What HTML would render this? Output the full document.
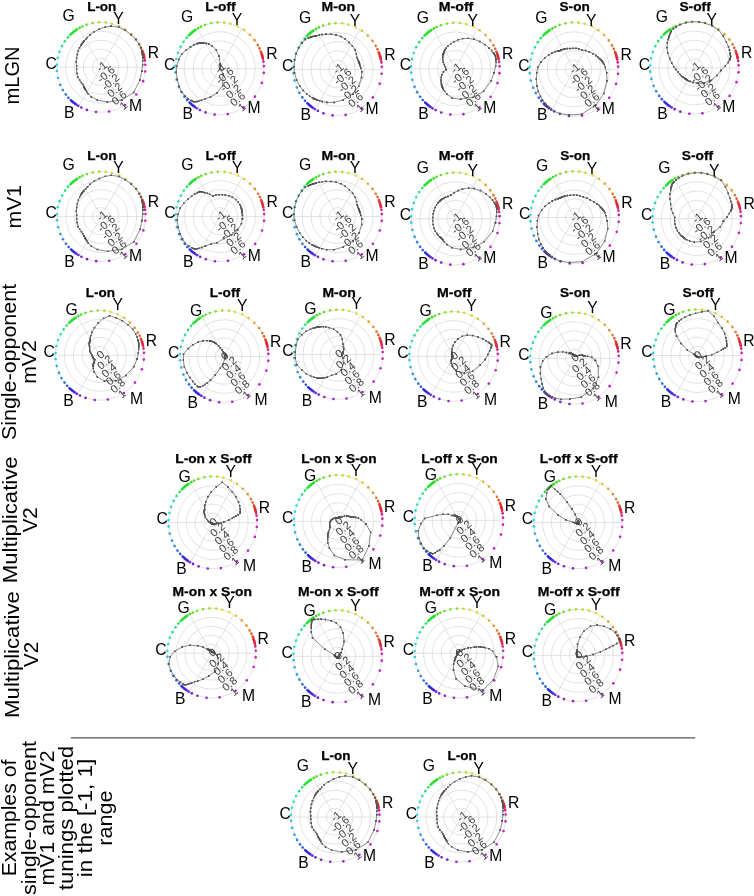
<!DOCTYPE html>
<html><head><meta charset="utf-8"><style>
html,body{margin:0;padding:0;background:#fff;}
svg{display:block;will-change:transform;}
text{font-family:"Liberation Sans",sans-serif;}
.g{fill:none;stroke:#d6d6d6;stroke-width:0.7;}
.c{fill:none;stroke:#7a7a7a;stroke-width:0.85;stroke-linejoin:round;marker-start:url(#mk);marker-mid:url(#mk);marker-end:url(#mk);}
.m{fill:#7a7a7a;}
.t{font-size:11px;fill:#404040;text-anchor:middle;}
.a{font-size:15.7px;fill:#000;text-anchor:middle;}
.h{font-size:11.9px;font-weight:bold;fill:#000;text-anchor:middle;stroke:#000;stroke-width:0.25px;}
.s{font-size:20.1px;fill:#000;text-anchor:middle;}
</style></head><body>
<svg width="754" height="896" viewBox="0 0 754 896">
<defs>
<g id="ring">
<circle r="8.86" class="g"/>
<circle r="17.72" class="g"/>
<circle r="26.58" class="g"/>
<circle r="35.44" class="g"/>
<circle r="44.30" class="g"/>
<line x1="44.30" y1="0.00" x2="-44.30" y2="-0.00" class="g"/>
<line x1="22.15" y1="-38.36" x2="-22.15" y2="38.36" class="g"/>
<line x1="-22.15" y1="-38.36" x2="22.15" y2="38.36" class="g"/>
<circle cx="44.10" cy="4.17" r="1.30" fill="#cc1fbe"/>
<circle cx="44.23" cy="-2.47" r="1.30" fill="#cc1faf"/>
<circle cx="43.79" cy="-6.70" r="1.30" fill="#cc1f7b"/>
<circle cx="43.33" cy="-9.21" r="1.30" fill="#e02866"/>
<circle cx="43.08" cy="-10.34" r="1.30" fill="#e02853"/>
<circle cx="42.79" cy="-11.47" r="1.30" fill="#e02841"/>
<circle cx="42.48" cy="-12.58" r="1.30" fill="#e02835"/>
<circle cx="42.13" cy="-13.69" r="1.30" fill="#e02828"/>
<circle cx="41.63" cy="-15.15" r="1.30" fill="#e03928"/>
<circle cx="41.16" cy="-16.38" r="1.30" fill="#e04728"/>
<circle cx="39.88" cy="-19.28" r="1.30" fill="#e06028"/>
<circle cx="38.13" cy="-22.55" r="1.30" fill="#e07828"/>
<circle cx="34.91" cy="-27.27" r="1.30" fill="#e09128"/>
<circle cx="30.21" cy="-32.40" r="1.30" fill="#e0a928"/>
<circle cx="24.32" cy="-37.03" r="1.30" fill="#e0c228"/>
<circle cx="18.02" cy="-40.47" r="1.30" fill="#e0da28"/>
<circle cx="10.72" cy="-42.98" r="1.30" fill="#cee028"/>
<circle cx="4.63" cy="-44.06" r="1.30" fill="#b5e028"/>
<circle cx="-2.09" cy="-44.25" r="1.30" fill="#9de028"/>
<circle cx="-8.45" cy="-43.49" r="1.30" fill="#84e028"/>
<circle cx="-14.42" cy="-41.89" r="1.30" fill="#6ce028"/>
<circle cx="-18.72" cy="-40.15" r="1.30" fill="#56e028"/>
<circle cx="-21.48" cy="-38.75" r="1.30" fill="#41e028"/>
<circle cx="-24.13" cy="-37.15" r="1.30" fill="#2fe028"/>
<circle cx="-25.09" cy="-36.51" r="1.30" fill="#2be028"/>
<circle cx="-26.04" cy="-35.84" r="1.30" fill="#28e02a"/>
<circle cx="-26.97" cy="-35.15" r="1.30" fill="#28e02d"/>
<circle cx="-27.88" cy="-34.43" r="1.30" fill="#28e032"/>
<circle cx="-28.77" cy="-33.69" r="1.30" fill="#28e036"/>
<circle cx="-29.64" cy="-32.92" r="1.30" fill="#28e03b"/>
<circle cx="-30.77" cy="-31.87" r="1.30" fill="#28e041"/>
<circle cx="-33.08" cy="-29.47" r="1.30" fill="#28e066"/>
<circle cx="-36.15" cy="-25.60" r="1.30" fill="#28e084"/>
<circle cx="-39.11" cy="-20.80" r="1.30" fill="#28e0a3"/>
<circle cx="-41.63" cy="-15.15" r="1.30" fill="#28e0bc"/>
<circle cx="-43.33" cy="-9.21" r="1.30" fill="#28e0d1"/>
<circle cx="-44.24" cy="-2.32" r="1.30" fill="#28dae0"/>
<circle cx="-44.15" cy="3.63" r="1.30" fill="#28c8e0"/>
<circle cx="-43.02" cy="10.57" r="1.30" fill="#28b2e0"/>
<circle cx="-40.78" cy="17.31" r="1.30" fill="#289ae0"/>
<circle cx="-38.21" cy="22.42" r="1.30" fill="#2884e0"/>
<circle cx="-35.24" cy="26.85" r="1.30" fill="#286ce0"/>
<circle cx="-32.61" cy="29.99" r="1.30" fill="#2856e0"/>
<circle cx="-30.10" cy="32.50" r="1.30" fill="#283be0"/>
<circle cx="-29.06" cy="33.43" r="1.30" fill="#282fe0"/>
<circle cx="-28.00" cy="34.33" r="1.30" fill="#2f28e0"/>
<circle cx="-26.91" cy="35.19" r="1.30" fill="#3c28e0"/>
<circle cx="-25.85" cy="35.98" r="1.30" fill="#4928e0"/>
<circle cx="-24.77" cy="36.73" r="1.30" fill="#5628e0"/>
<circle cx="-22.82" cy="37.97" r="1.30" fill="#6c28e0"/>
<circle cx="-19.77" cy="39.65" r="1.30" fill="#701fcc"/>
<circle cx="-14.13" cy="41.99" r="1.30" fill="#811fcc"/>
<circle cx="-5.01" cy="44.02" r="1.30" fill="#921fcc"/>
<circle cx="8.07" cy="43.56" r="1.30" fill="#a11fcc"/>
<circle cx="24.13" cy="37.15" r="1.30" fill="#af1fcc"/>
<circle cx="35.24" cy="26.85" r="1.30" fill="#be1fcc"/>
<circle cx="42.13" cy="13.69" r="1.30" fill="#cc1fcc"/>
</g>
<g id="tpm">
<text x="0.00" y="3.20" class="t" textLength="9.87" lengthAdjust="spacingAndGlyphs" transform="rotate(-40.0 0.00 0.00)">-1</text>
<text x="4.34" y="11.03" class="t" textLength="19.31" lengthAdjust="spacingAndGlyphs" transform="rotate(-40.0 4.34 7.83)">-0.6</text>
<text x="8.68" y="18.86" class="t" textLength="19.31" lengthAdjust="spacingAndGlyphs" transform="rotate(-40.0 8.68 15.66)">-0.2</text>
<text x="13.02" y="26.68" class="t" textLength="15.74" lengthAdjust="spacingAndGlyphs" transform="rotate(-40.0 13.02 23.48)">0.2</text>
<text x="17.36" y="34.51" class="t" textLength="15.74" lengthAdjust="spacingAndGlyphs" transform="rotate(-40.0 17.36 31.31)">0.6</text>
<text x="21.70" y="42.34" class="t" textLength="6.30" lengthAdjust="spacingAndGlyphs" transform="rotate(-40.0 21.70 39.14)">1</text>
</g>
<g id="apm">
<text x="-32.50" y="-46.20" class="a">G</text>
<text x="17.40" y="-43.20" class="a">Y</text>
<text x="52.30" y="-9.50" class="a">R</text>
<text x="-50.00" y="1.60" class="a">C</text>
<text x="-31.80" y="50.70" class="a">B</text>
<text x="34.40" y="44.20" class="a">M</text>
</g>
<g id="tz">
<text x="0.00" y="3.20" class="t" textLength="6.30" lengthAdjust="spacingAndGlyphs" transform="rotate(-40.0 0.00 0.00)">0</text>
<text x="4.34" y="11.03" class="t" textLength="15.74" lengthAdjust="spacingAndGlyphs" transform="rotate(-40.0 4.34 7.83)">0.2</text>
<text x="8.68" y="18.86" class="t" textLength="15.74" lengthAdjust="spacingAndGlyphs" transform="rotate(-40.0 8.68 15.66)">0.4</text>
<text x="13.02" y="26.68" class="t" textLength="15.74" lengthAdjust="spacingAndGlyphs" transform="rotate(-40.0 13.02 23.48)">0.6</text>
<text x="17.36" y="34.51" class="t" textLength="15.74" lengthAdjust="spacingAndGlyphs" transform="rotate(-40.0 17.36 31.31)">0.8</text>
<text x="21.70" y="42.34" class="t" textLength="6.30" lengthAdjust="spacingAndGlyphs" transform="rotate(-40.0 21.70 39.14)">1</text>
</g>
<g id="az">
<text x="-28.05" y="-40.60" class="a">G</text>
<text x="17.95" y="-45.30" class="a">Y</text>
<text x="51.60" y="-9.40" class="a">R</text>
<text x="-50.55" y="1.50" class="a">C</text>
<text x="-31.40" y="51.10" class="a">B</text>
<text x="36.90" y="48.20" class="a">M</text>
</g>
<marker id="mk" viewBox="-1 -1 2 2" markerWidth="2.10" markerHeight="2.10" markerUnits="userSpaceOnUse"><circle r="1" fill="#555555"/></marker>
</defs>
<g transform="translate(101.05 67.25) scale(1 1.016)">
<use href="#ring"/>
<polygon points="40.8,3.9 41.5,-2.3 41.7,-6.4 41.7,-8.9 41.6,-10.0 41.5,-11.1 41.4,-12.3 41.2,-13.4 40.9,-14.9 40.6,-16.2 39.8,-19.2 38.1,-22.6 34.9,-27.3 30.0,-32.1 23.9,-36.4 17.6,-39.5 10.1,-40.6 4.2,-39.5 -1.8,-37.5 -6.8,-35.0 -11.0,-31.9 -13.7,-29.3 -15.2,-27.5 -16.8,-25.9 -17.4,-25.3 -17.9,-24.7 -18.5,-24.1 -19.0,-23.4 -19.5,-22.8 -19.9,-22.1 -20.5,-21.2 -21.6,-19.2 -22.8,-16.2 -23.8,-12.6 -24.5,-8.9 -24.8,-5.3 -24.5,-1.3 -24.5,2.0 -24.1,5.9 -23.2,9.8 -21.5,12.6 -19.7,15.0 -18.3,16.8 -17.4,18.8 -17.0,19.6 -16.6,20.4 -16.2,21.2 -15.7,21.9 -15.3,22.6 -14.4,24.0 -13.0,26.0 -9.8,29.2 -3.7,32.4 6.3,34.2 20.9,32.2 32.6,24.8 38.9,12.6" class="c"/>
</g>
<use href="#tpm" x="102.05" y="66.95"/>
<use href="#apm" x="101.05" y="67.25"/>
<text x="101.75" y="10.80" class="h" textLength="29.17" lengthAdjust="spacingAndGlyphs">L-on</text>
<g transform="translate(219.65 68.60) scale(1 1.044)">
<use href="#ring"/>
<polygon points="0.2,0.0 0.0,0.0 0.0,0.0 0.0,0.0 0.0,0.0 0.0,0.0 0.0,0.0 0.0,0.0 0.0,0.0 0.0,0.0 0.0,0.0 0.0,-0.0 0.2,-0.1 0.3,-0.4 0.4,-0.7 0.7,-1.7 0.8,-3.3 0.5,-4.6 -0.6,-11.9 -3.5,-18.0 -7.4,-21.6 -10.9,-23.5 -13.4,-24.1 -15.9,-24.5 -16.9,-24.6 -17.9,-24.7 -18.9,-24.7 -19.9,-24.5 -20.8,-24.3 -21.7,-24.1 -23.0,-23.8 -25.6,-22.8 -29.2,-20.7 -33.3,-17.7 -38.1,-13.9 -40.9,-8.7 -43.0,-2.3 -43.3,3.6 -42.3,10.4 -40.4,17.2 -38.1,22.4 -34.6,26.3 -31.3,28.8 -28.3,30.6 -27.2,31.2 -26.0,31.8 -24.3,31.8 -22.7,31.5 -21.0,31.2 -18.2,30.4 -14.4,28.9 -9.2,27.3 -2.7,23.3 3.0,16.3 3.3,5.1 1.8,1.4 0.5,0.2" class="c"/>
</g>
<use href="#tpm" x="220.65" y="68.30"/>
<use href="#apm" x="219.65" y="68.60"/>
<text x="220.35" y="10.80" class="h" textLength="30.34" lengthAdjust="spacingAndGlyphs">L-off</text>
<g transform="translate(337.60 69.40) scale(1 1.045)">
<use href="#ring"/>
<polygon points="24.1,2.3 23.2,-1.3 22.5,-3.4 22.0,-4.7 21.9,-5.3 21.7,-5.8 21.5,-6.4 21.3,-6.9 21.0,-7.6 20.7,-8.2 20.0,-9.7 19.3,-11.4 18.8,-14.7 17.4,-18.7 14.8,-22.5 11.5,-25.8 7.3,-29.2 3.3,-31.5 -1.6,-32.9 -6.5,-33.6 -11.6,-33.7 -15.6,-33.4 -18.2,-32.9 -20.9,-32.2 -22.0,-32.0 -23.1,-31.8 -24.2,-31.6 -25.3,-31.3 -26.5,-31.0 -27.6,-30.6 -29.1,-30.1 -32.3,-28.7 -35.7,-25.3 -38.9,-20.7 -41.5,-15.1 -43.0,-9.1 -43.7,-2.3 -43.1,3.5 -41.0,10.1 -37.7,16.0 -34.4,20.2 -30.9,23.5 -27.9,25.7 -25.2,27.2 -24.1,27.8 -23.1,28.3 -22.0,28.7 -20.9,29.1 -19.9,29.5 -18.0,30.0 -15.3,30.7 -10.6,31.6 -3.6,31.6 5.4,29.3 15.1,23.3 21.1,16.1 23.9,7.8" class="c"/>
</g>
<use href="#tpm" x="338.60" y="69.10"/>
<use href="#apm" x="337.60" y="69.40"/>
<text x="338.30" y="10.80" class="h" textLength="33.43" lengthAdjust="spacingAndGlyphs">M-on</text>
<g transform="translate(455.35 68.80) scale(1 1.041)">
<use href="#ring"/>
<polygon points="38.6,3.7 40.3,-2.3 40.7,-6.2 40.6,-8.6 40.4,-9.7 40.3,-10.8 40.1,-11.9 39.7,-12.9 38.9,-14.2 38.1,-15.2 36.2,-17.5 33.7,-19.9 29.7,-23.2 24.4,-26.2 18.6,-28.3 13.0,-29.2 7.2,-29.0 2.9,-27.9 -1.2,-26.1 -4.7,-24.1 -7.5,-21.8 -9.2,-19.8 -10.2,-18.4 -11.0,-16.9 -11.2,-16.3 -11.5,-15.8 -11.7,-15.2 -11.9,-14.7 -12.1,-14.1 -12.2,-13.6 -12.4,-12.8 -12.6,-11.2 -12.5,-8.9 -12.1,-6.4 -11.1,-4.1 -10.6,-2.3 -9.8,-0.5 -9.3,0.8 -11.9,2.9 -13.4,5.7 -14.1,8.3 -14.4,10.9 -14.2,13.1 -13.9,15.0 -13.7,15.7 -13.4,16.5 -13.2,17.2 -12.9,17.9 -12.6,18.7 -12.0,19.9 -10.8,21.7 -8.3,24.5 -3.2,28.1 5.4,29.2 17.8,27.4 28.2,21.5 35.8,11.6" class="c"/>
</g>
<use href="#tpm" x="456.35" y="68.50"/>
<use href="#apm" x="455.35" y="68.80"/>
<text x="456.05" y="10.80" class="h" textLength="34.60" lengthAdjust="spacingAndGlyphs">M-off</text>
<g transform="translate(573.95 69.35) scale(1 1.059)">
<use href="#ring"/>
<polygon points="32.6,3.1 31.4,-1.8 30.3,-4.6 29.2,-6.2 28.7,-6.9 28.2,-7.5 27.6,-8.2 27.0,-8.8 26.2,-9.5 25.5,-10.2 23.9,-11.6 22.0,-13.0 19.0,-14.8 15.3,-16.5 11.6,-17.7 8.1,-18.1 4.8,-19.2 2.1,-19.8 -0.9,-19.9 -3.8,-19.6 -6.7,-19.6 -9.0,-19.3 -10.5,-18.9 -12.0,-18.5 -12.6,-18.3 -13.1,-18.1 -13.7,-17.8 -14.2,-17.6 -14.9,-17.4 -15.6,-17.3 -16.6,-17.2 -18.7,-16.7 -21.9,-15.5 -25.4,-13.5 -29.4,-10.7 -32.9,-7.0 -36.1,-1.9 -37.2,3.1 -37.6,9.2 -37.0,15.7 -35.7,20.9 -33.5,25.5 -31.5,28.9 -29.4,31.7 -28.5,32.8 -27.6,33.8 -26.5,34.7 -25.5,35.5 -24.5,36.3 -22.6,37.7 -19.7,39.5 -14.1,41.8 -4.9,43.1 7.8,42.3 21.9,33.7 29.9,22.8 33.1,10.8" class="c"/>
</g>
<use href="#tpm" x="574.95" y="69.05"/>
<use href="#apm" x="573.95" y="69.35"/>
<text x="574.65" y="10.80" class="h" textLength="30.16" lengthAdjust="spacingAndGlyphs">S-on</text>
<g transform="translate(694.40 67.90) scale(1 1.042)">
<use href="#ring"/>
<polygon points="26.4,2.5 31.0,-1.7 33.7,-5.2 35.1,-7.5 35.7,-8.6 36.0,-9.6 36.2,-10.7 36.1,-11.7 35.9,-13.1 35.7,-14.2 35.1,-17.0 34.1,-20.2 32.0,-25.0 28.7,-30.8 24.0,-36.5 17.9,-40.2 10.7,-43.0 4.6,-44.1 -2.1,-44.3 -8.5,-43.5 -14.3,-41.5 -18.3,-39.3 -20.9,-37.7 -23.0,-35.4 -23.6,-34.3 -24.1,-33.2 -24.6,-32.0 -25.0,-30.9 -25.5,-29.8 -25.8,-28.7 -26.3,-27.2 -27.0,-24.0 -27.4,-19.4 -26.7,-14.2 -24.7,-9.0 -22.7,-4.8 -20.7,-1.1 -18.6,1.5 -16.3,4.0 -14.6,6.2 -13.0,7.7 -11.5,8.8 -10.3,9.4 -9.4,10.2 -9.1,10.5 -8.7,10.7 -8.4,11.0 -8.1,11.2 -7.7,11.4 -7.1,11.8 -6.1,12.3 -4.4,13.0 -1.6,14.0 2.7,14.6 9.6,14.7 15.9,12.1 22.5,7.3" class="c"/>
</g>
<use href="#tpm" x="695.40" y="67.60"/>
<use href="#apm" x="694.40" y="67.90"/>
<text x="695.10" y="10.80" class="h" textLength="31.32" lengthAdjust="spacingAndGlyphs">S-off</text>
<g transform="translate(101.20 216.55) scale(1 1.014)">
<use href="#ring"/>
<polygon points="40.8,3.9 41.5,-2.3 41.7,-6.4 41.7,-8.9 41.6,-10.0 41.5,-11.1 41.4,-12.3 41.2,-13.4 40.9,-14.9 40.6,-16.2 39.8,-19.2 38.1,-22.6 34.9,-27.3 30.0,-32.1 23.9,-36.4 17.6,-39.5 10.1,-40.7 4.2,-39.6 -1.8,-37.5 -6.8,-35.0 -11.0,-31.9 -13.7,-29.3 -15.3,-27.5 -16.9,-25.9 -17.4,-25.3 -18.0,-24.7 -18.5,-24.1 -19.0,-23.4 -19.5,-22.8 -19.9,-22.1 -20.5,-21.2 -21.6,-19.2 -22.8,-16.2 -23.8,-12.6 -24.5,-8.9 -24.8,-5.3 -24.5,-1.3 -24.5,2.0 -24.1,5.9 -23.2,9.8 -21.6,12.6 -19.7,15.0 -18.3,16.8 -17.4,18.8 -17.1,19.6 -16.6,20.4 -16.2,21.2 -15.7,21.9 -15.3,22.6 -14.4,24.0 -13.0,26.1 -9.8,29.3 -3.7,32.5 6.4,34.3 20.9,32.2 32.6,24.8 38.9,12.6" class="c"/>
</g>
<use href="#tpm" x="102.20" y="216.25"/>
<use href="#apm" x="101.20" y="216.55"/>
<text x="101.90" y="159.90" class="h" textLength="29.17" lengthAdjust="spacingAndGlyphs">L-on</text>
<g transform="translate(219.95 216.60) scale(1 1.015)">
<use href="#ring"/>
<polygon points="22.5,2.1 22.5,-1.3 22.2,-3.4 22.0,-4.7 22.0,-5.3 21.9,-5.9 21.8,-6.4 21.7,-7.0 21.5,-7.8 21.3,-8.5 20.8,-10.0 20.0,-11.8 18.3,-14.3 15.7,-16.8 12.5,-19.0 9.1,-20.5 5.3,-21.3 2.3,-21.5 -1.0,-21.5 -4.1,-21.1 -7.0,-20.3 -10.2,-21.9 -12.7,-22.9 -15.3,-23.6 -16.5,-24.0 -17.7,-24.3 -18.9,-24.6 -20.0,-24.7 -20.8,-24.3 -21.6,-24.0 -22.7,-23.5 -25.1,-22.3 -28.4,-20.1 -32.2,-17.1 -36.2,-13.2 -39.7,-8.4 -42.1,-2.2 -42.7,3.5 -41.8,10.3 -39.8,16.9 -37.5,22.0 -34.7,26.4 -31.3,28.8 -28.3,30.6 -27.1,31.2 -25.9,31.8 -24.4,31.9 -22.7,31.6 -21.1,31.3 -18.3,30.5 -14.5,29.0 -9.1,27.1 -2.9,25.7 4.0,21.6 11.7,18.0 17.7,13.5 21.5,7.0" class="c"/>
</g>
<use href="#tpm" x="220.95" y="216.30"/>
<use href="#apm" x="219.95" y="216.60"/>
<text x="220.65" y="159.90" class="h" textLength="30.34" lengthAdjust="spacingAndGlyphs">L-off</text>
<g transform="translate(337.65 216.60) scale(1 1.015)">
<use href="#ring"/>
<polygon points="24.1,2.3 23.2,-1.3 22.6,-3.5 22.1,-4.7 21.9,-5.3 21.8,-5.8 21.6,-6.4 21.4,-6.9 21.1,-7.7 20.8,-8.3 20.1,-9.7 19.4,-11.4 18.9,-14.8 17.6,-18.9 15.1,-22.9 11.7,-26.4 7.5,-29.9 3.4,-32.4 -1.6,-33.9 -6.7,-34.6 -11.9,-34.7 -16.0,-34.3 -18.7,-33.7 -21.5,-33.0 -22.5,-32.8 -23.6,-32.5 -24.7,-32.1 -25.7,-31.8 -26.8,-31.4 -27.9,-31.0 -29.3,-30.3 -32.3,-28.8 -35.7,-25.3 -38.9,-20.7 -41.5,-15.1 -43.0,-9.1 -43.7,-2.3 -43.1,3.5 -41.1,10.1 -38.0,16.1 -34.7,20.4 -31.3,23.8 -28.4,26.1 -25.7,27.7 -24.6,28.3 -23.5,28.9 -22.4,29.3 -21.4,29.8 -20.3,30.2 -18.5,30.8 -15.7,31.5 -10.9,32.5 -3.7,32.5 5.6,30.0 15.4,23.8 21.3,16.2 24.0,7.8" class="c"/>
</g>
<use href="#tpm" x="338.65" y="216.30"/>
<use href="#apm" x="337.65" y="216.60"/>
<text x="338.35" y="159.90" class="h" textLength="33.43" lengthAdjust="spacingAndGlyphs">M-on</text>
<g transform="translate(455.35 218.75) scale(1 1.044)">
<use href="#ring"/>
<polygon points="40.1,3.8 41.1,-2.3 41.3,-6.3 41.3,-8.8 41.2,-9.9 41.1,-11.0 40.9,-12.1 40.4,-13.1 39.6,-14.4 38.9,-15.5 37.1,-17.9 34.7,-20.5 30.5,-23.9 25.1,-27.0 19.0,-28.9 13.2,-29.5 7.1,-28.4 2.8,-27.0 -1.2,-25.0 -4.4,-22.7 -7.4,-21.4 -9.6,-20.6 -11.1,-20.0 -12.5,-19.2 -13.0,-18.9 -13.5,-18.6 -14.0,-18.2 -14.4,-17.8 -14.9,-17.5 -15.4,-17.1 -16.0,-16.5 -17.2,-15.3 -18.8,-13.3 -20.3,-10.8 -21.4,-7.8 -22.2,-4.7 -22.5,-1.2 -22.7,1.9 -22.3,5.5 -21.4,9.1 -20.1,11.8 -18.5,14.1 -17.2,15.8 -15.9,17.1 -15.3,17.6 -14.8,18.1 -14.2,18.5 -13.6,19.0 -13.1,19.4 -12.3,20.5 -11.0,22.1 -8.3,24.7 -3.2,27.8 5.4,29.4 17.9,27.5 28.9,22.0 37.2,12.1" class="c"/>
</g>
<use href="#tpm" x="456.35" y="218.45"/>
<use href="#apm" x="455.35" y="218.75"/>
<text x="456.05" y="159.90" class="h" textLength="34.60" lengthAdjust="spacingAndGlyphs">M-off</text>
<g transform="translate(574.60 217.50) scale(1 1.044)">
<use href="#ring"/>
<polygon points="32.6,3.1 31.4,-1.8 30.4,-4.6 29.3,-6.2 28.8,-6.9 28.2,-7.6 27.7,-8.2 27.1,-8.8 26.3,-9.6 25.7,-10.2 24.1,-11.6 22.2,-13.1 19.1,-14.9 15.7,-16.8 12.2,-18.5 8.7,-19.6 5.2,-20.8 2.2,-21.4 -1.0,-21.6 -4.1,-21.3 -7.2,-21.0 -9.6,-20.6 -11.1,-20.1 -12.7,-19.5 -13.2,-19.3 -13.8,-19.0 -14.4,-18.7 -14.9,-18.4 -15.6,-18.3 -16.3,-18.1 -17.2,-17.9 -19.3,-17.2 -22.3,-15.8 -25.6,-13.6 -29.5,-10.7 -33.0,-7.0 -36.1,-1.9 -37.2,3.1 -37.6,9.2 -37.0,15.7 -35.8,21.0 -33.6,25.6 -31.5,29.0 -29.4,31.8 -28.5,32.8 -27.6,33.8 -26.5,34.7 -25.5,35.5 -24.5,36.3 -22.6,37.7 -19.7,39.5 -14.1,41.8 -4.9,43.1 7.8,42.3 22.1,34.0 30.0,22.8 33.1,10.8" class="c"/>
</g>
<use href="#tpm" x="575.60" y="217.20"/>
<use href="#apm" x="574.60" y="217.50"/>
<text x="575.30" y="159.90" class="h" textLength="30.16" lengthAdjust="spacingAndGlyphs">S-on</text>
<g transform="translate(696.75 218.70) scale(1 1.041)">
<use href="#ring"/>
<polygon points="26.7,2.5 30.3,-1.7 32.6,-5.0 33.8,-7.2 34.3,-8.2 34.8,-9.3 35.2,-10.4 35.3,-11.5 35.1,-12.8 34.9,-13.9 34.2,-16.5 33.1,-19.6 31.4,-24.5 28.7,-30.8 24.3,-36.9 18.0,-40.4 10.7,-43.0 4.6,-44.1 -2.1,-44.1 -8.4,-43.2 -14.2,-41.2 -18.1,-38.9 -20.6,-37.1 -22.8,-35.2 -23.7,-34.4 -24.4,-33.6 -24.9,-32.4 -25.3,-31.2 -25.6,-30.0 -25.9,-28.8 -26.2,-27.1 -26.7,-23.7 -26.8,-19.0 -26.1,-13.9 -25.4,-9.2 -24.0,-5.1 -22.1,-1.2 -22.2,1.8 -21.7,5.3 -20.7,8.8 -19.4,11.4 -17.9,13.6 -16.5,15.2 -15.3,16.5 -14.7,17.0 -14.2,17.4 -13.7,17.9 -13.1,18.3 -12.6,18.7 -11.6,19.3 -10.1,20.2 -7.2,21.5 -2.6,22.5 4.1,21.9 11.8,18.2 17.2,13.1 23.6,7.7" class="c"/>
</g>
<use href="#tpm" x="697.75" y="218.40"/>
<use href="#apm" x="696.75" y="218.70"/>
<text x="697.45" y="159.90" class="h" textLength="31.32" lengthAdjust="spacingAndGlyphs">S-off</text>
<g transform="translate(99.75 355.35) scale(1 1.014)">
<use href="#ring"/>
<polygon points="37.4,3.5 38.5,-2.2 38.9,-6.0 39.0,-8.3 39.0,-9.4 39.0,-10.4 38.9,-11.5 38.8,-12.6 38.5,-14.0 38.2,-15.2 37.3,-18.0 35.9,-21.2 32.9,-25.7 28.2,-30.2 22.4,-34.2 16.5,-37.0 9.7,-39.0 3.8,-36.5 -1.5,-32.0 -5.3,-27.3 -7.8,-22.7 -9.0,-19.3 -9.4,-17.0 -9.7,-15.0 -9.9,-14.4 -10.1,-13.8 -10.2,-13.3 -10.3,-12.7 -10.3,-12.1 -10.4,-11.5 -10.4,-10.8 -10.3,-9.2 -10.2,-7.2 -10.1,-5.4 -9.7,-3.5 -9.0,-1.9 -7.9,-0.4 -7.4,0.6 -7.0,1.7 -6.5,2.7 -5.9,3.5 -5.3,4.1 -4.9,4.5 -5.7,6.1 -5.9,6.8 -6.1,7.5 -6.3,8.2 -6.4,8.9 -6.5,9.6 -6.6,10.9 -6.4,12.9 -5.5,16.4 -2.4,21.3 4.7,25.2 16.2,25.0 26.1,19.9 34.2,11.1" class="c"/>
</g>
<use href="#tz" x="100.75" y="355.05"/>
<use href="#az" x="99.75" y="355.35"/>
<text x="100.45" y="297.40" class="h" textLength="29.17" lengthAdjust="spacingAndGlyphs">L-on</text>
<g transform="translate(224.20 356.50) scale(1 1.039)">
<use href="#ring"/>
<polygon points="1.3,0.1 1.3,-0.1 1.3,-0.2 1.3,-0.3 1.3,-0.3 1.3,-0.3 1.3,-0.4 1.3,-0.4 1.2,-0.5 1.2,-0.5 1.2,-0.6 1.1,-0.7 1.0,-0.8 0.9,-1.0 0.7,-1.1 0.6,-1.4 0.4,-1.7 0.2,-2.0 -0.1,-2.8 -0.9,-4.7 -2.2,-6.4 -3.9,-8.3 -5.7,-10.3 -7.8,-12.1 -8.7,-12.7 -9.6,-13.2 -10.6,-13.8 -11.5,-14.3 -12.5,-14.6 -13.4,-14.8 -14.5,-15.0 -17.1,-15.3 -21.2,-15.0 -26.0,-13.8 -31.2,-11.4 -36.1,-7.7 -40.7,-2.1 -40.8,3.4 -39.9,9.8 -37.2,15.8 -34.4,20.2 -31.5,24.0 -29.0,26.7 -26.7,28.8 -25.7,29.6 -24.0,29.4 -21.6,28.2 -19.4,27.0 -17.3,25.6 -13.7,22.8 -8.9,17.8 -3.8,11.2 -0.8,6.9 0.4,2.1 1.0,1.5 1.2,0.9 1.3,0.4" class="c"/>
</g>
<use href="#tz" x="225.20" y="356.20"/>
<use href="#az" x="224.20" y="356.50"/>
<text x="224.90" y="297.40" class="h" textLength="30.34" lengthAdjust="spacingAndGlyphs">L-off</text>
<g transform="translate(338.45 354.45) scale(1 1.012)">
<use href="#ring"/>
<polygon points="3.5,0.3 3.7,-0.2 4.0,-0.6 4.2,-0.9 4.2,-1.0 4.3,-1.1 4.3,-1.3 4.4,-1.4 4.4,-1.6 4.5,-1.8 4.6,-2.2 4.7,-2.8 5.1,-4.0 5.3,-5.7 5.0,-7.6 4.5,-10.2 3.8,-15.2 2.0,-19.2 -1.1,-22.4 -4.8,-24.9 -9.1,-26.5 -12.7,-27.2 -15.2,-27.4 -17.8,-27.4 -18.8,-27.3 -19.8,-27.2 -20.7,-27.0 -21.7,-26.8 -22.7,-26.6 -23.7,-26.4 -25.1,-26.0 -28.0,-24.9 -32.2,-22.8 -36.6,-19.5 -40.8,-14.8 -42.4,-9.0 -43.1,-2.3 -43.2,3.5 -41.6,10.2 -36.6,15.5 -32.2,18.9 -27.9,21.2 -24.5,22.5 -21.6,23.3 -20.4,23.5 -19.2,23.5 -18.0,23.5 -16.8,23.4 -15.7,23.3 -13.8,23.0 -11.1,22.4 -6.9,20.6 -2.2,19.2 2.8,15.1 5.4,8.3 4.4,3.4 3.4,1.1" class="c"/>
</g>
<use href="#tz" x="339.45" y="354.15"/>
<use href="#az" x="338.45" y="354.45"/>
<text x="339.15" y="297.40" class="h" textLength="33.43" lengthAdjust="spacingAndGlyphs">M-on</text>
<g transform="translate(453.55 356.40) scale(1 1.013)">
<use href="#ring"/>
<polygon points="31.7,3.0 34.3,-1.9 36.2,-5.5 37.2,-7.9 37.6,-9.0 38.0,-10.2 38.1,-11.3 37.2,-12.1 36.0,-13.1 34.9,-13.9 32.3,-15.6 29.2,-17.3 24.5,-19.1 19.2,-20.6 13.8,-21.0 8.8,-19.9 4.3,-17.2 1.5,-14.1 -0.5,-10.7 -1.4,-7.3 -1.7,-5.0 -1.8,-3.9 -1.8,-3.2 -1.6,-2.5 -1.6,-2.3 -1.5,-2.0 -1.4,-1.8 -1.3,-1.5 -1.1,-1.3 -1.2,-1.3 -1.2,-1.2 -1.2,-1.1 -1.2,-0.9 -1.2,-0.6 -1.2,-0.4 -1.1,-0.2 -0.9,-0.0 -1.0,0.1 -1.2,0.3 -1.4,0.6 -1.5,0.9 -1.5,1.1 -1.5,1.4 -1.4,1.6 -1.4,1.6 -1.5,1.9 -1.7,2.3 -1.9,2.6 -2.0,3.0 -2.2,3.6 -2.3,4.7 -2.2,6.6 -1.1,9.7 2.6,14.3 10.8,16.6 19.1,14.6 26.5,8.6" class="c"/>
</g>
<use href="#tz" x="454.55" y="356.10"/>
<use href="#az" x="453.55" y="356.40"/>
<text x="454.25" y="297.40" class="h" textLength="34.60" lengthAdjust="spacingAndGlyphs">M-off</text>
<g transform="translate(574.45 358.40) scale(1 1.036)">
<use href="#ring"/>
<polygon points="21.0,2.0 17.2,-1.0 13.1,-2.0 10.6,-2.3 9.9,-2.4 9.5,-2.5 9.0,-2.7 8.6,-2.8 8.0,-2.9 7.5,-3.0 6.3,-3.0 4.9,-2.9 3.0,-2.3 2.2,-2.4 1.7,-2.5 1.1,-2.5 0.6,-2.4 0.2,-2.3 -0.1,-2.4 -0.6,-3.3 -1.4,-3.9 -2.0,-4.4 -2.5,-4.6 -3.1,-4.7 -3.3,-4.8 -3.5,-4.8 -3.7,-4.9 -4.0,-4.9 -4.2,-4.9 -4.4,-4.9 -4.7,-4.9 -5.4,-4.8 -8.1,-5.7 -11.9,-6.3 -16.6,-6.0 -22.4,-4.8 -28.0,-1.5 -31.8,2.6 -34.0,8.3 -34.1,14.5 -33.4,19.6 -32.4,24.7 -31.1,28.6 -29.6,32.0 -28.9,33.3 -27.9,34.2 -26.7,35.0 -25.6,35.6 -24.4,36.2 -22.4,37.2 -19.2,38.5 -13.3,39.4 -4.5,39.2 6.9,37.3 18.8,29.0 24.0,18.3 23.7,7.7" class="c"/>
</g>
<use href="#tz" x="575.45" y="358.10"/>
<use href="#az" x="574.45" y="358.40"/>
<text x="575.15" y="297.40" class="h" textLength="30.16" lengthAdjust="spacingAndGlyphs">S-on</text>
<g transform="translate(697.45 355.55) scale(1 1.044)">
<use href="#ring"/>
<polygon points="8.5,0.8 14.4,-0.8 19.9,-3.1 23.9,-5.1 25.8,-6.2 27.6,-7.4 29.2,-8.7 29.3,-9.5 29.3,-10.6 29.2,-11.6 29.0,-14.0 28.5,-16.8 27.1,-21.2 24.5,-26.3 20.7,-31.5 16.7,-37.5 10.7,-42.8 4.4,-41.9 -1.9,-40.4 -7.6,-38.9 -12.6,-36.7 -16.1,-34.6 -18.3,-33.0 -20.3,-31.2 -21.0,-30.6 -21.5,-29.6 -21.7,-28.3 -21.9,-27.1 -22.1,-25.9 -22.2,-24.6 -22.1,-22.9 -21.0,-18.7 -16.3,-11.5 -10.1,-5.3 -3.6,-1.3 -2.7,-0.6 -2.3,-0.1 -2.0,0.2 -1.5,0.4 -1.2,0.5 -1.1,0.7 -1.0,0.8 -1.0,0.9 -0.9,1.0 -0.9,1.0 -0.8,1.0 -0.8,1.0 -0.8,1.1 -0.7,1.1 -0.7,1.1 -0.6,1.2 -0.4,1.2 -0.1,1.3 0.2,1.3 0.7,1.1 1.5,1.2 4.5,1.5" class="c"/>
</g>
<use href="#tz" x="698.45" y="355.25"/>
<use href="#az" x="697.45" y="355.55"/>
<text x="698.15" y="297.40" class="h" textLength="31.32" lengthAdjust="spacingAndGlyphs">S-off</text>
<g transform="translate(212.75 522.60) scale(1 1.043)">
<use href="#ring"/>
<polygon points="5.6,0.5 11.1,-0.6 16.0,-2.4 19.5,-4.1 21.0,-5.0 23.3,-6.2 25.5,-7.6 27.5,-8.9 27.5,-10.0 27.5,-11.0 27.4,-13.2 26.9,-15.9 25.7,-20.1 23.1,-24.7 19.4,-29.5 15.2,-34.2 9.6,-38.6 3.6,-34.2 -1.4,-29.4 -4.8,-24.8 -6.9,-20.0 -7.9,-16.8 -8.2,-14.7 -8.2,-12.7 -8.3,-12.1 -8.4,-11.5 -8.4,-11.0 -8.4,-10.4 -8.4,-9.9 -8.4,-9.3 -8.3,-8.6 -8.1,-7.2 -7.4,-5.2 -6.2,-3.3 -5.0,-1.8 -4.0,-0.9 -2.7,-0.1 -2.1,0.2 -1.9,0.5 -1.6,0.7 -1.4,0.8 -1.2,0.9 -1.0,1.0 -0.9,1.0 -0.8,1.0 -0.8,1.0 -0.7,1.0 -0.7,1.0 -0.6,1.0 -0.6,0.9 -0.5,0.9 -0.3,0.9 -0.1,1.1 0.3,1.4 0.9,1.5 1.6,1.2 3.3,1.1" class="c"/>
</g>
<use href="#tz" x="213.75" y="522.30"/>
<use href="#az" x="212.75" y="522.60"/>
<text x="213.45" y="463.10" class="h" textLength="76.46" lengthAdjust="spacingAndGlyphs">L-on x S-off</text>
<g transform="translate(338.15 521.30) scale(1 1.044)">
<use href="#ring"/>
<polygon points="27.7,2.6 23.3,-1.3 20.2,-3.1 17.5,-3.7 16.2,-3.9 15.0,-4.0 13.7,-4.1 12.8,-4.2 12.2,-4.4 11.6,-4.6 10.2,-4.9 8.6,-5.1 6.3,-4.9 3.8,-4.1 2.8,-4.3 1.9,-4.2 1.0,-4.0 0.4,-3.7 -0.2,-3.4 -0.7,-3.3 -1.1,-3.2 -1.4,-3.1 -1.7,-3.0 -1.9,-2.9 -2.0,-2.9 -2.1,-2.9 -2.2,-2.9 -2.4,-2.9 -2.5,-3.0 -2.7,-3.0 -2.9,-3.0 -3.3,-2.9 -4.0,-2.8 -4.7,-2.5 -5.6,-2.1 -6.6,-1.4 -7.5,-0.4 -8.1,0.7 -8.5,2.1 -8.5,3.6 -8.4,4.9 -8.1,6.2 -8.7,8.0 -9.6,10.4 -9.9,11.4 -10.2,12.4 -10.3,13.5 -10.4,14.5 -10.5,15.6 -10.5,17.5 -10.3,20.6 -8.7,25.7 -3.7,32.7 6.8,36.8 24.1,37.1 30.8,23.5 32.4,10.5" class="c"/>
</g>
<use href="#tz" x="339.15" y="521.00"/>
<use href="#az" x="338.15" y="521.30"/>
<text x="338.85" y="463.10" class="h" textLength="75.29" lengthAdjust="spacingAndGlyphs">L-on x S-on</text>
<g transform="translate(458.85 520.30) scale(1 1.043)">
<use href="#ring"/>
<polygon points="1.3,0.1 1.3,-0.1 1.3,-0.2 1.3,-0.3 1.3,-0.3 1.3,-0.3 1.3,-0.4 1.3,-0.4 1.2,-0.5 1.2,-0.5 1.2,-0.6 1.1,-0.7 1.0,-0.8 0.9,-1.0 0.7,-1.1 0.5,-1.2 0.3,-1.2 0.1,-1.3 -0.1,-1.6 -0.5,-2.5 -1.1,-3.3 -1.8,-3.8 -2.3,-4.1 -2.8,-4.3 -3.0,-4.4 -3.2,-4.5 -3.5,-4.5 -3.7,-4.6 -3.9,-4.6 -4.2,-4.6 -4.5,-4.6 -5.2,-4.6 -6.5,-4.6 -10.6,-5.7 -15.6,-5.7 -22.2,-4.7 -34.3,-1.8 -37.9,3.1 -40.6,10.0 -40.0,17.0 -37.8,22.2 -35.2,26.8 -31.8,29.2 -28.7,31.0 -27.4,31.6 -26.2,32.1 -23.7,31.0 -21.4,29.8 -19.2,28.5 -14.6,24.3 -8.6,17.2 -0.9,2.8 -0.3,2.4 0.3,1.7 0.7,1.1 1.0,0.8 1.3,0.4" class="c"/>
</g>
<use href="#tz" x="459.85" y="520.00"/>
<use href="#az" x="458.85" y="520.30"/>
<text x="459.55" y="463.10" class="h" textLength="76.46" lengthAdjust="spacingAndGlyphs">L-off x S-on</text>
<g transform="translate(578.00 522.55) scale(1 1.041)">
<use href="#ring"/>
<polygon points="0.9,0.1 0.9,-0.1 0.9,-0.1 0.9,-0.2 0.9,-0.2 0.9,-0.2 0.9,-0.3 0.9,-0.3 0.9,-0.3 0.9,-0.4 0.9,-0.4 0.9,-0.5 0.8,-0.6 0.7,-0.8 0.6,-0.9 0.5,-1.0 0.3,-1.1 0.1,-1.2 -0.1,-1.2 -0.3,-1.7 -2.7,-7.8 -6.1,-13.2 -10.9,-19.6 -17.8,-27.4 -20.5,-29.8 -23.2,-32.0 -26.9,-35.1 -27.8,-34.3 -28.6,-33.5 -29.4,-32.7 -30.5,-31.5 -31.4,-28.0 -32.1,-22.7 -28.9,-15.4 -19.9,-7.2 -12.0,-2.5 -4.7,-0.2 -3.5,0.3 -2.1,0.5 -1.2,0.5 -1.1,0.7 -1.0,0.8 -0.9,0.9 -0.8,0.9 -0.8,0.9 -0.8,1.0 -0.7,1.0 -0.7,1.0 -0.7,1.0 -0.6,1.0 -0.5,1.1 -0.4,1.1 -0.1,1.1 0.2,1.1 0.6,0.9 0.8,0.6 0.9,0.3" class="c"/>
</g>
<use href="#tz" x="579.00" y="522.25"/>
<use href="#az" x="578.00" y="522.55"/>
<text x="578.70" y="463.10" class="h" textLength="77.62" lengthAdjust="spacingAndGlyphs">L-off x S-off</text>
<g transform="translate(211.55 653.20) scale(1 1.012)">
<use href="#ring"/>
<polygon points="3.3,0.3 2.2,-0.1 2.1,-0.3 2.0,-0.4 2.0,-0.5 2.0,-0.5 2.0,-0.6 1.9,-0.6 1.9,-0.7 1.9,-0.7 1.8,-0.9 1.6,-1.0 1.4,-1.1 1.2,-1.3 0.9,-1.4 0.6,-1.4 0.4,-1.4 0.1,-1.4 -0.1,-1.5 -0.4,-2.2 -0.9,-2.7 -1.4,-3.1 -1.8,-3.3 -2.2,-3.4 -2.4,-3.5 -2.5,-3.5 -2.7,-3.5 -2.9,-3.6 -3.1,-3.6 -3.2,-3.6 -3.5,-3.6 -4.4,-4.0 -8.5,-6.0 -13.7,-7.3 -21.6,-7.9 -29.4,-6.2 -36.8,-1.9 -41.3,3.4 -43.0,10.6 -40.8,17.3 -37.7,22.1 -34.2,26.1 -31.2,28.7 -28.3,30.6 -27.2,31.3 -25.4,31.2 -23.4,30.6 -21.5,29.9 -19.7,29.2 -17.0,28.2 -13.8,27.6 -8.7,25.7 -2.6,22.4 3.4,18.2 6.7,10.4 6.4,4.9 5.3,1.7" class="c"/>
</g>
<use href="#tz" x="212.55" y="652.90"/>
<use href="#az" x="211.55" y="653.20"/>
<text x="212.25" y="595.50" class="h" textLength="79.55" lengthAdjust="spacingAndGlyphs">M-on x S-on</text>
<g transform="translate(337.65 656.35) scale(1 1.042)">
<use href="#ring"/>
<polygon points="1.3,0.1 1.4,-0.1 1.5,-0.2 1.6,-0.3 1.6,-0.4 1.6,-0.4 1.6,-0.5 1.6,-0.5 1.7,-0.6 1.7,-0.7 1.7,-0.8 1.7,-1.0 1.7,-1.3 3.4,-3.6 4.5,-6.9 6.4,-14.3 5.6,-22.4 2.9,-27.8 -1.5,-32.2 -6.6,-34.2 -12.2,-35.3 -16.6,-35.7 -19.7,-35.6 -23.0,-35.4 -24.3,-35.3 -25.5,-35.1 -25.8,-33.6 -26.1,-32.2 -26.2,-30.7 -26.4,-29.3 -26.5,-27.4 -26.3,-23.4 -25.1,-17.8 -12.6,-6.7 -3.3,-1.2 -3.0,-0.6 -2.5,-0.1 -2.1,0.2 -1.6,0.4 -1.2,0.5 -1.1,0.7 -1.1,0.8 -1.0,0.9 -0.9,1.0 -0.9,1.0 -0.8,1.0 -0.8,1.1 -0.8,1.1 -0.7,1.1 -0.7,1.1 -0.6,1.2 -0.4,1.3 -0.2,1.3 0.2,1.3 0.7,1.1 1.1,0.8 1.3,0.4" class="c"/>
</g>
<use href="#tz" x="338.65" y="656.05"/>
<use href="#az" x="337.65" y="656.35"/>
<text x="338.35" y="595.50" class="h" textLength="80.72" lengthAdjust="spacingAndGlyphs">M-on x S-off</text>
<g transform="translate(458.95 653.30) scale(1 1.011)">
<use href="#ring"/>
<polygon points="37.5,3.5 33.6,-1.9 29.9,-4.6 26.2,-5.6 24.6,-5.9 22.9,-6.1 21.3,-6.3 19.6,-6.4 17.4,-6.3 15.5,-6.2 11.7,-5.6 9.0,-5.3 5.4,-4.2 3.4,-3.6 1.6,-2.4 0.9,-1.9 0.5,-1.9 0.2,-1.8 -0.1,-1.7 -0.3,-1.6 -0.5,-1.4 -0.6,-1.3 -0.6,-1.2 -0.7,-1.1 -0.8,-1.1 -0.8,-1.1 -0.8,-1.1 -0.9,-1.1 -0.9,-1.0 -0.9,-1.0 -1.0,-1.0 -1.0,-0.9 -1.2,-0.8 -1.3,-0.7 -1.4,-0.5 -1.5,-0.3 -1.6,-0.1 -1.6,0.1 -1.6,0.4 -1.6,0.7 -1.5,0.9 -1.4,1.1 -2.0,1.9 -2.9,3.2 -3.2,3.7 -3.5,4.3 -3.7,4.9 -3.9,5.5 -4.1,6.1 -4.5,7.5 -5.3,10.6 -5.5,16.4 -2.9,25.2 6.0,32.5 23.7,36.4 34.5,26.3 39.3,12.8" class="c"/>
</g>
<use href="#tz" x="459.95" y="653.00"/>
<use href="#az" x="458.95" y="653.30"/>
<text x="459.65" y="595.50" class="h" textLength="80.72" lengthAdjust="spacingAndGlyphs">M-off x S-on</text>
<g transform="translate(578.05 655.40) scale(1 1.041)">
<use href="#ring"/>
<polygon points="8.2,0.8 15.1,-0.8 22.4,-3.4 28.0,-5.9 31.5,-7.6 34.9,-9.4 38.6,-11.4 42.1,-13.7 41.5,-15.1 40.9,-16.3 39.3,-19.0 37.2,-22.0 32.5,-25.4 26.0,-27.9 19.2,-29.2 12.5,-28.0 5.8,-23.3 1.8,-17.3 -0.5,-10.7 -1.0,-5.1 -1.2,-3.4 -1.3,-2.7 -1.2,-2.2 -1.2,-1.8 -1.1,-1.6 -1.1,-1.5 -1.0,-1.3 -1.0,-1.2 -0.9,-1.0 -0.9,-1.0 -0.9,-0.9 -1.0,-0.9 -1.1,-0.7 -1.1,-0.6 -1.2,-0.4 -1.3,-0.3 -1.3,-0.1 -1.3,0.1 -1.3,0.3 -1.2,0.5 -1.1,0.7 -1.0,0.8 -1.0,0.9 -0.9,0.9 -0.8,1.0 -0.8,1.0 -0.8,1.0 -0.8,1.1 -0.7,1.1 -0.7,1.1 -0.6,1.2 -0.4,1.2 -0.1,1.3 0.2,1.3 0.8,1.2 2.4,1.9 4.4,1.4" class="c"/>
</g>
<use href="#tz" x="579.05" y="655.10"/>
<use href="#az" x="578.05" y="655.40"/>
<text x="578.75" y="595.50" class="h" textLength="81.88" lengthAdjust="spacingAndGlyphs">M-off x S-off</text>
<g transform="translate(335.25 817.15) scale(1 1.014)">
<use href="#ring"/>
<polygon points="40.8,3.9 41.5,-2.3 41.7,-6.4 41.7,-8.9 41.6,-10.0 41.5,-11.1 41.4,-12.3 41.2,-13.4 40.9,-14.9 40.6,-16.2 39.8,-19.2 38.1,-22.6 34.9,-27.3 30.0,-32.1 23.9,-36.4 17.6,-39.5 10.1,-40.7 4.2,-39.6 -1.8,-37.5 -6.8,-35.0 -11.0,-31.9 -13.7,-29.3 -15.3,-27.5 -16.9,-25.9 -17.4,-25.3 -18.0,-24.7 -18.5,-24.1 -19.0,-23.4 -19.5,-22.8 -19.9,-22.1 -20.5,-21.2 -21.6,-19.2 -22.8,-16.2 -23.8,-12.6 -24.5,-8.9 -24.8,-5.3 -24.5,-1.3 -24.5,2.0 -24.1,5.9 -23.2,9.8 -21.6,12.6 -19.7,15.0 -18.3,16.8 -17.4,18.8 -17.1,19.6 -16.6,20.4 -16.2,21.2 -15.7,21.9 -15.3,22.6 -14.4,24.0 -13.0,26.1 -9.8,29.3 -3.7,32.5 6.4,34.3 20.9,32.2 32.6,24.8 38.9,12.6" class="c"/>
</g>
<use href="#tpm" x="336.25" y="816.85"/>
<use href="#apm" x="335.25" y="817.15"/>
<text x="335.95" y="759.90" class="h" textLength="29.17" lengthAdjust="spacingAndGlyphs">L-on</text>
<g transform="translate(461.40 817.10) scale(1 1.014)">
<use href="#ring"/>
<polygon points="40.8,3.9 41.5,-2.3 41.7,-6.4 41.7,-8.9 41.6,-10.0 41.5,-11.1 41.4,-12.3 41.2,-13.4 40.9,-14.9 40.6,-16.2 39.8,-19.2 38.1,-22.6 34.9,-27.3 30.0,-32.1 23.9,-36.4 17.6,-39.5 10.1,-40.7 4.2,-39.6 -1.8,-37.6 -6.8,-35.0 -11.0,-32.0 -13.7,-29.3 -15.3,-27.5 -16.9,-26.0 -17.4,-25.3 -18.0,-24.7 -18.5,-24.1 -19.0,-23.4 -19.5,-22.8 -19.9,-22.1 -20.5,-21.2 -21.6,-19.2 -22.8,-16.2 -23.8,-12.6 -24.5,-8.9 -24.8,-5.3 -24.5,-1.3 -24.5,2.0 -24.1,5.9 -23.2,9.8 -21.6,12.6 -19.7,15.0 -18.3,16.8 -17.4,18.8 -17.1,19.6 -16.6,20.4 -16.2,21.2 -15.7,21.9 -15.3,22.6 -14.4,24.0 -13.0,26.1 -9.8,29.3 -3.7,32.5 6.4,34.3 20.9,32.2 32.6,24.8 38.9,12.6" class="c"/>
</g>
<use href="#tpm" x="462.40" y="816.80"/>
<use href="#apm" x="461.40" y="817.10"/>
<text x="462.10" y="759.90" class="h" textLength="29.17" lengthAdjust="spacingAndGlyphs">L-on</text>
<g transform="translate(0 75.50) rotate(-90)">
<text x="0" y="19.40" class="s" textLength="58.03" lengthAdjust="spacingAndGlyphs">mLGN</text>
</g>
<g transform="translate(0 206.70) rotate(-90)">
<text x="0" y="20.60" class="s" textLength="43.59" lengthAdjust="spacingAndGlyphs">mV1</text>
</g>
<g transform="translate(0 362.00) rotate(-90)">
<text x="0" y="16.10" class="s" textLength="156.21" lengthAdjust="spacingAndGlyphs">Single-opponent</text>
<text x="0" y="36.00" class="s" textLength="43.59" lengthAdjust="spacingAndGlyphs">mV2</text>
</g>
<g transform="translate(0 519.80) rotate(-90)">
<text x="0" y="16.90" class="s" textLength="126.81" lengthAdjust="spacingAndGlyphs">Multiplicative</text>
<text x="0" y="36.70" class="s" textLength="25.09" lengthAdjust="spacingAndGlyphs">V2</text>
</g>
<g transform="translate(0 654.50) rotate(-90)">
<text x="0" y="19.10" class="s" textLength="126.81" lengthAdjust="spacingAndGlyphs">Multiplicative</text>
<text x="0" y="38.30" class="s" textLength="25.09" lengthAdjust="spacingAndGlyphs">V2</text>
</g>
<g transform="translate(0 818.00) rotate(-90)">
<text x="0" y="16.30" class="s" textLength="116.68" lengthAdjust="spacingAndGlyphs">Examples of</text>
<text x="0" y="35.70" class="s" textLength="154.05" lengthAdjust="spacingAndGlyphs">single-opponent</text>
<text x="0" y="54.00" class="s" textLength="135.01" lengthAdjust="spacingAndGlyphs">mV1 and mV2</text>
<text x="0" y="73.10" class="s" textLength="144.47" lengthAdjust="spacingAndGlyphs">tunings plotted</text>
<text x="0" y="92.30" class="s" textLength="118.52" lengthAdjust="spacingAndGlyphs">in the [-1, 1]</text>
<text x="0" y="111.50" class="s" textLength="55.25" lengthAdjust="spacingAndGlyphs">range</text>
</g>
<line x1="70.9" y1="737.9" x2="695.2" y2="737.9" stroke="#555" stroke-width="1.4"/>
</svg>
</body></html>
